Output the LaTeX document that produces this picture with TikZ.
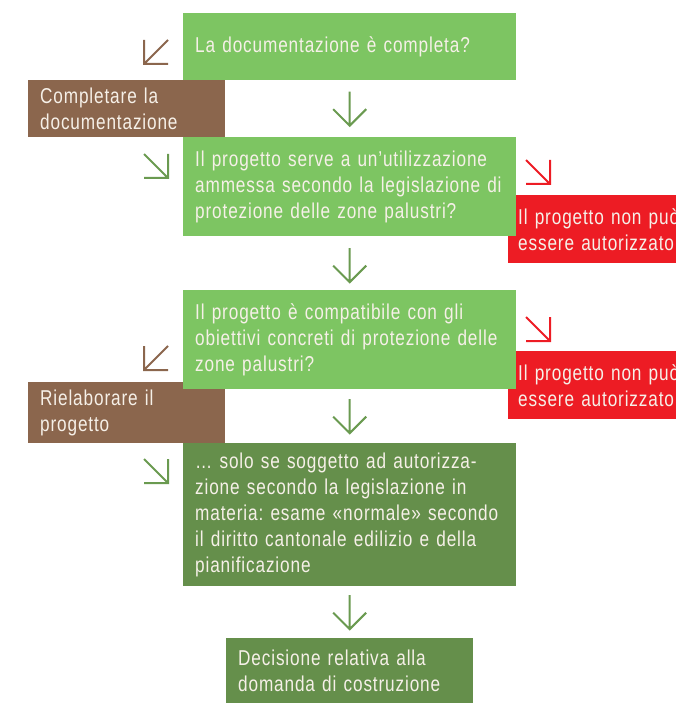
\documentclass[tikz,border=0pt]{standalone}
\usepackage{fontspec}
\setmainfont{Liberation Sans}[FakeStretch=0.8,LetterSpace=4]
\usetikzlibrary{calc}
\definecolor{lgreen}{RGB}{125,197,98}
\definecolor{dgreen}{RGB}{101,143,75}
\definecolor{brownc}{RGB}{139,102,77}
\definecolor{redc}{RGB}{237,28,36}
\definecolor{txt}{RGB}{246,240,232}
\definecolor{arrgreen}{RGB}{106,154,80}
\begin{document}
\begin{tikzpicture}[x=1pt,y=-1pt,
  box/.style={anchor=north west, inner xsep=12pt, inner ysep=0pt, align=left,
    text=txt, font=\fontsize{21.5}{26}\selectfont\frenchspacing},
  qbox/.style={box, fill=lgreen, minimum width=333pt, text width=309pt},
  brbox/.style={box, fill=brownc, minimum width=197pt, text width=173pt},
  rbox/.style={box, fill=redc, inner xsep=10pt, minimum width=200pt, text width=180pt, minimum height=68pt},
  arrline/.style={line width=2pt, line cap=butt, line join=miter},
  swarr/.pic={\draw[arrline] (12,-12) -- (-12,12) (-12,-12) -- (-12,12) -- (12,12);},
  searr/.pic={\draw[arrline] (-12,-12) -- (12,12) (12,-12) -- (12,12) -- (-12,12);},
  downarr/.pic={\draw[arrline] (0,-17) -- (0,17) (-16.5,0.5) -- (0,17) -- (16.5,0.5);}
]
\useasboundingbox (0,0) rectangle (676,703);
\clip (0,0) rectangle (676,703);

% lower layer: brown and red boxes
\node[brbox, minimum height=57pt] (c1) at (28,80) {Completare la\\documentazione};
\node[brbox, minimum height=61pt] (c2) at (28,382) {Rielaborare il\\progetto};
\node[rbox] (r1) at (508,195) {Il progetto non può\\essere autorizzato};
\node[rbox] (r2) at (508,351) {Il progetto non può\\essere autorizzato};

% green boxes
\node[qbox, minimum height=67pt] (b1) at (183,13) {La documentazione è completa?};
\node[qbox, minimum height=99pt] (b2) at (183,137) {\mbox{Il progetto serve a un’utilizzazione}\\\mbox{ammessa secondo la legislazione di}\\\mbox{protezione delle zone palustri?}};
\node[qbox, minimum height=99pt] (b3) at (183,290) {\mbox{Il progetto è compatibile con gli}\\\mbox{obiettivi concreti di protezione delle}\\\mbox{zone palustri?}};
\node[qbox, fill=dgreen, minimum height=143pt] (b4) at (183,443) {\mbox{… solo se soggetto ad autorizza-}\\\mbox{zione secondo la legislazione in}\\\mbox{materia: esame «normale» secondo}\\\mbox{il diritto cantonale edilizio e della}\\\mbox{pianificazione}};
\node[box, fill=dgreen, minimum width=247pt, text width=223pt, minimum height=65pt] (b5) at (226,638) {Decisione relativa alla\\domanda di costruzione};

% down arrows
\pic[arrgreen] at ($(b1.south)!0.5!(b2.north)$) {downarr};
\pic[arrgreen] at ($(b2.south)!0.5!(b3.north)+(0,2)$) {downarr};
\pic[arrgreen] at ($(b3.south)!0.5!(b4.north)$) {downarr};
\pic[arrgreen] at ($(b4.south)!0.5!(b5.north)$) {downarr};

% diagonal arrows
\pic[brownc] at (156,52) {swarr};
\pic[arrgreen] at (156,166) {searr};
\pic[redc] at (538,172) {searr};
\pic[redc] at (538,329) {searr};
\pic[brownc] at (156,358) {swarr};
\pic[arrgreen] at (156,471) {searr};
\end{tikzpicture}
\end{document}
